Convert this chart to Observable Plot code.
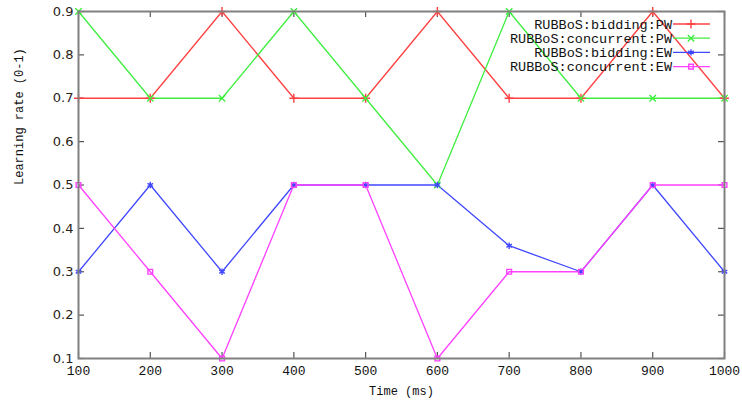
<!DOCTYPE html>
<html>
<head>
<meta charset="utf-8">
<script src="https://cdn.jsdelivr.net/npm/d3@7"></script>
<script src="https://cdn.jsdelivr.net/npm/@observablehq/plot@0.6"></script>
<style>
  html, body { margin: 0; padding: 0; background: #fff; }
  #chart svg { display: block; }
</style>
</head>
<body>
<div id="chart"></div>
<script>
// ---- data ----
const times = [100, 200, 300, 400, 500, 600, 700, 800, 900, 1000];
const seriesNames = ["RUBBoS:bidding:PW", "RUBBoS:concurrent:PW", "RUBBoS:bidding:EW", "RUBBoS:concurrent:EW"];
const biddingPW    = [0.7, 0.7, 0.9, 0.7, 0.7, 0.9, 0.7, 0.7, 0.9, 0.7];
const concurrentPW = [0.9, 0.7, 0.7, 0.9, 0.7, 0.5, 0.9, 0.7, 0.7, 0.7];
const biddingEW    = [0.3, 0.5, 0.3, 0.5, 0.5, 0.5, 0.36, 0.3, 0.5, 0.3];
const concurrentEW = [0.5, 0.3, 0.1, 0.5, 0.5, 0.1, 0.3, 0.3, 0.5, 0.5];
const xTicks = [100, 200, 300, 400, 500, 600, 700, 800, 900, 1000];
const yTicks = [0.1, 0.2, 0.3, 0.4, 0.5, 0.6, 0.7, 0.8, 0.9];
const xLabel = "Time (ms)";
const yLabel = "Learning rate (0-1)";

// ---- styles ----
const colors = ["#ff4040", "#40ee40", "#4048ff", "#ff40ff"];
const symbols = ["plus", "times", "asterisk", "square2"];
const W = 742, H = 403;
const mL = 78, mR = 18, mT = 11, mB = 45;
const innerW = W - mL - mR, innerH = H - mT - mB;
const frameColor = "#808080";
const tickColor = "#555";
const monoFont = "'Liberation Mono', 'DejaVu Sans Mono', monospace";

const allValues = [biddingPW, concurrentPW, biddingEW, concurrentEW];
const data = [];
seriesNames.forEach((s, i) => {
  times.forEach((t, j) => data.push({t, v: allValues[i][j], s}));
});

const chart = Plot.plot({
  width: W, height: H,
  marginLeft: mL, marginRight: mR, marginTop: mT, marginBottom: mB,
  style: {background: "#fff"},
  x: {domain: [100, 1000]},
  y: {domain: [0.1, 0.9]},
  color: {domain: seriesNames, range: colors},
  symbol: {domain: seriesNames, range: symbols},
  marks: [
    // inward ticks (left/right/bottom/top)
    Plot.tickY(yTicks, {y: d => d, insetRight: innerW - 6, stroke: tickColor, strokeWidth: 1.2}),
    Plot.tickY(yTicks, {y: d => d, insetLeft: innerW - 6, stroke: tickColor, strokeWidth: 1.2}),
    Plot.tickX(xTicks, {x: d => d, insetTop: innerH - 6, stroke: tickColor, strokeWidth: 1.2}),
    Plot.tickX(xTicks, {x: d => d, insetBottom: innerH - 6, stroke: tickColor, strokeWidth: 1.2}),
    Plot.line(data, {x: "t", y: "v", z: "s", stroke: "s", strokeWidth: 1.3}),
    Plot.dot(data, {x: "t", y: "v", stroke: "s", symbol: "s", fill: "none", r: 3, strokeWidth: 1.4}),
    Plot.frame({stroke: frameColor, strokeWidth: 2}),
    Plot.axisX(xTicks, {tickSize: 0, tickPadding: 7, label: null, fontSize: 13, fontFamily: monoFont, fill: "#111", tickFormat: d => String(d)}),
    Plot.axisY(yTicks, {tickSize: 0, tickPadding: 5, label: null, fontSize: 13, fontFamily: "'DejaVu Sans', sans-serif", fill: "#2a2418", tickFormat: d => d.toFixed(1)}),
    Plot.text([yLabel], {text: d => d, frameAnchor: "left", dx: -59, rotate: -90, fontSize: 12, fontFamily: monoFont, fill: "#111"}),
    Plot.text([xLabel], {text: d => d, frameAnchor: "bottom", dy: 36, fontSize: 12, fontFamily: monoFont, fill: "#111"})
  ]
});

document.getElementById("chart").appendChild(chart);

// ---- legend (inside plot, top-right) ----
const svg = d3.select(chart);
const lg = svg.append("g").attr("class", "legend");
const symMap = {plus: d3.symbolPlus, times: d3.symbolTimes, asterisk: d3.symbolAsterisk, square2: d3.symbolSquare2};
seriesNames.forEach((name, i) => {
  const y = 24 + i * 14.2;
  lg.append("text")
    .attr("x", 672).attr("y", y)
    .attr("dy", "0.35em")
    .attr("text-anchor", "end")
    .attr("font-family", monoFont)
    .attr("font-size", 13.5)
    .attr("fill", "#111")
    .text(name);
  lg.append("line")
    .attr("x1", 673).attr("x2", 710)
    .attr("y1", y).attr("y2", y)
    .attr("stroke", colors[i]).attr("stroke-width", 1.3);
  lg.append("path")
    .attr("transform", `translate(691,${y})`)
    .attr("d", d3.symbol(symMap[symbols[i]], Math.PI * 9)())
    .attr("fill", "none")
    .attr("stroke", colors[i]).attr("stroke-width", 1.4);
});
</script>
</body>
</html>
